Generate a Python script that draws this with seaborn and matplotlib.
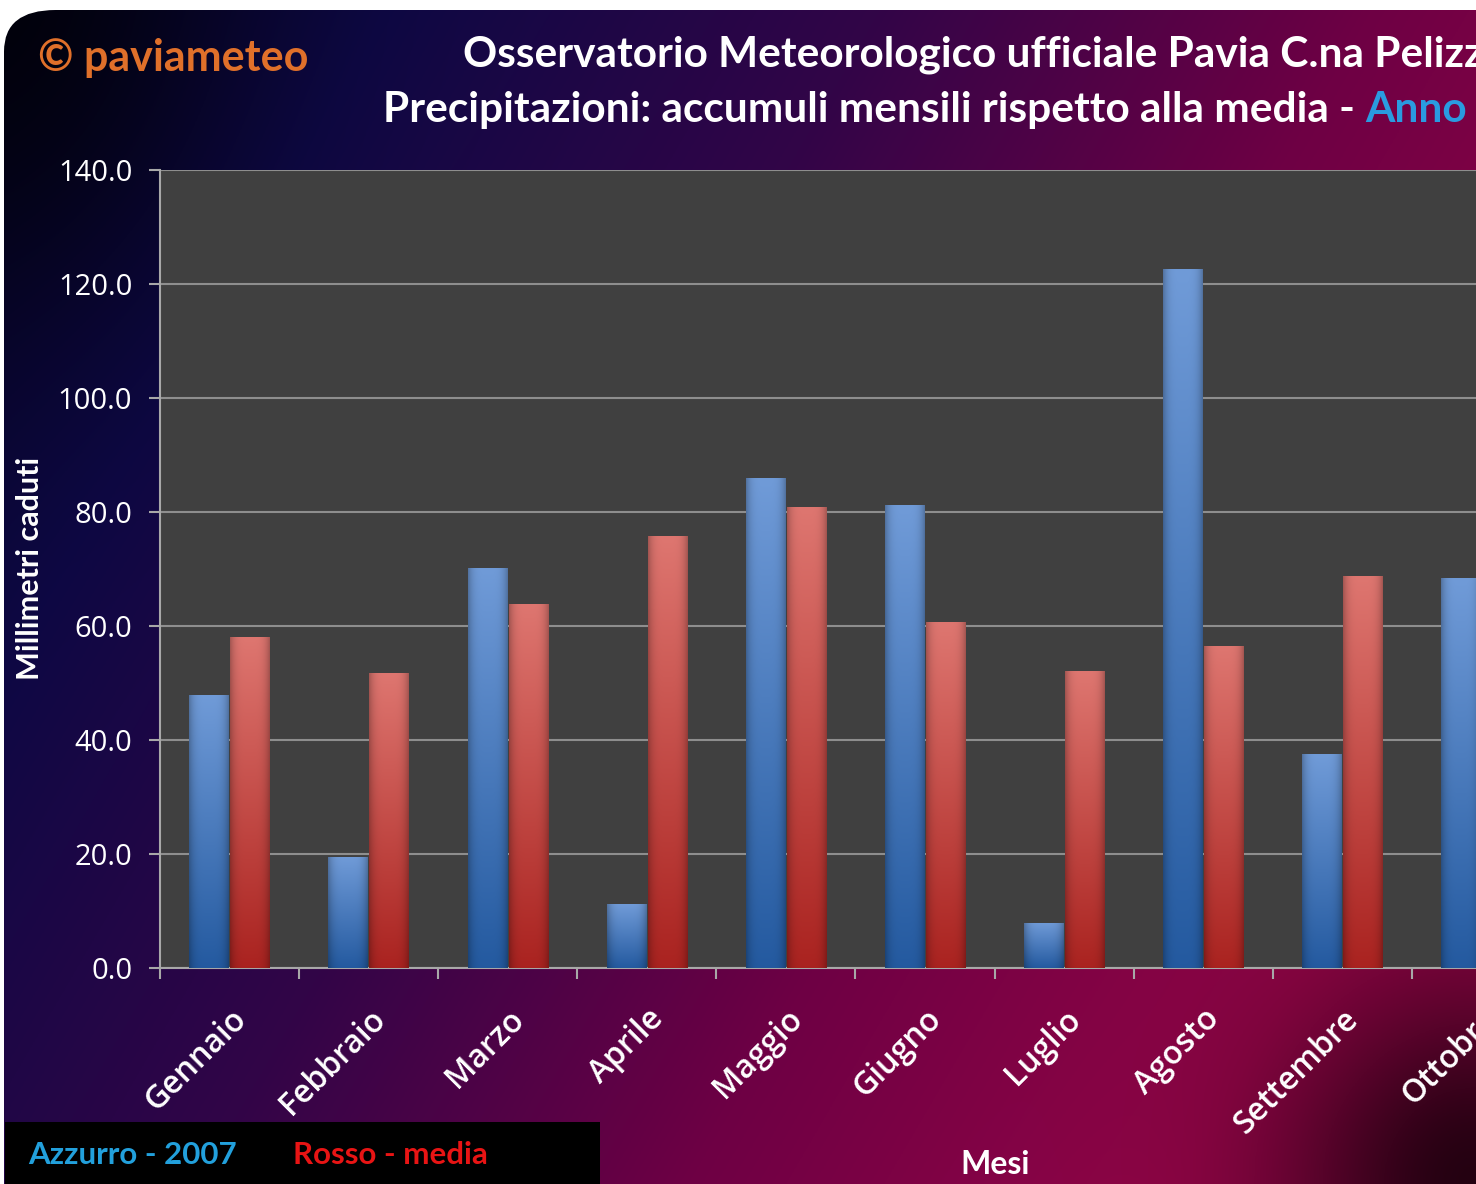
import numpy as np
import pandas as pd
import matplotlib
matplotlib.use("Agg")
import matplotlib.pyplot as plt
import seaborn as sns
from matplotlib.patches import FancyBboxPatch, Rectangle
from matplotlib.ticker import FixedLocator, FormatStrFormatter

# ---------------- data ----------------
mesi = ["Gennaio", "Febbraio", "Marzo", "Aprile", "Maggio", "Giugno",
        "Luglio", "Agosto", "Settembre", "Ottobre"]
pioggia_2007 = [47.9, 19.5, 70.2, 11.2, 86.0, 81.2, 7.9, 122.6, 37.5, 68.4]
pioggia_media = [58.1, 51.8, 63.9, 75.8, 80.9, 60.7, 52.1, 56.5, 68.8, np.nan]
serie = ["2007", "media"]
y_ticks = [0, 20, 40, 60, 80, 100, 120, 140]

df = pd.DataFrame({
    "Mese": mesi * 2,
    "mm": pioggia_2007 + pioggia_media,
    "Serie": [serie[0]] * len(mesi) + [serie[1]] * len(mesi),
})

sns.set_theme(style="dark")
plt.rcParams["font.family"] = ["Lato", "DejaVu Sans"]

W, H = 1476, 1184
fig = plt.figure(figsize=(W / 100, H / 100), dpi=100)
fig.patch.set_facecolor("white")

# ---------------- background gradient ----------------
bg = fig.add_axes([0, 0, 1, 1], zorder=-10)
bg.set_axis_off()
gx, gy = np.meshgrid(np.linspace(0, 1, 500), np.linspace(0, 1, 400))
t = 0.75 * gx + 0.35 * gy
stops_t = [0.0, 0.2, 0.45, 0.7, 0.95, 1.2]
stops_c = np.array([(4, 4, 32), (14, 8, 68), (50, 5, 72), (110, 0, 68),
                    (145, 5, 70), (145, 5, 70)]) / 255.0
img = np.zeros(gx.shape + (3,))
for c in range(3):
    img[..., c] = np.interp(t, stops_t, stops_c[:, c])
dark_br = 1 - 0.75 * np.exp(-(((1 - gx) / 0.13) ** 2 + ((1 - gy) / 0.17) ** 2))
dark_tl = 1 - 0.65 * np.exp(-((gx / 0.15) ** 2 + (gy / 0.25) ** 2))
img *= (dark_br * dark_tl)[..., None]
clip = FancyBboxPatch((4 / W, -0.05), 1.2, 1 - 10 / H + 0.05,
                      boxstyle="round,pad=0,rounding_size=0.035",
                      transform=bg.transAxes, facecolor="none", edgecolor="none")
bg.add_patch(clip)
bg.imshow(img, extent=[0, 1, 0, 1], aspect="auto", transform=bg.transAxes,
          clip_path=clip, zorder=0)
bg.set_xlim(0, 1)
bg.set_ylim(0, 1)

# ---------------- main axes ----------------
left = 160 / W
bottom = (H - 968) / H
top = (H - 170) / H
cat_w = 139.1
ax = fig.add_axes([left, bottom, 12 * cat_w / W, top - bottom])
ax.set_facecolor("#404040")

sns.barplot(data=df, x="Mese", y="mm", hue="Serie", order=mesi,
            palette=["#4a7cc4", "#c84840"], width=0.59, gap=0.04,
            legend=False, ax=ax, zorder=3)

# gradient fill for the bars
def bar_grad(c_top, c_bot):
    yy = np.linspace(0, 1, 100)[:, None]
    xx = np.linspace(0, 1, 40)[None, :]
    top_c = np.array(c_top) / 255.0
    bot_c = np.array(c_bot) / 255.0
    g = top_c[None, None, :] * (1 - yy[..., None]) + bot_c[None, None, :] * yy[..., None]
    edge = 1 - 0.25 * (np.abs(xx - 0.5) * 2) ** 4
    return np.clip(g * edge[..., None], 0, 1)

grad_blue = bar_grad((112, 155, 216), (36, 90, 160))
grad_red = bar_grad((222, 118, 112), (170, 35, 32))
for p in list(ax.patches):
    if not np.isfinite(p.get_height()) or p.get_height() == 0:
        continue
    fc = p.get_facecolor()
    g = grad_blue if fc[2] > fc[0] else grad_red
    x0, w, h = p.get_x(), p.get_width(), p.get_height()
    im = ax.imshow(g, extent=[x0, x0 + w, 0, h], aspect="auto", zorder=4)
    im.set_clip_path(p)
    p.set_edgecolor("none")

ax.set_xlim(-0.5, 11.5)
ax.set_ylim(0, 140)
ax.set_yticks(y_ticks)
ax.yaxis.set_major_formatter(FormatStrFormatter("%.1f"))
ax.grid(axis="y", color="#8e8e8e", linewidth=1.5, zorder=1)
ax.grid(axis="x", visible=False)
ax.set_axisbelow(True)

for s in ["top", "right"]:
    ax.spines[s].set_visible(False)
for s in ["left", "bottom"]:
    ax.spines[s].set_visible(True)
    ax.spines[s].set_color("#a8a8a8")
    ax.spines[s].set_linewidth(1.5)

ax.tick_params(axis="y", which="major", left=True, length=8, width=1.5,
               color="#a8a8a8", colors="white", labelsize=21, pad=12)
ax.tick_params(axis="x", which="major", bottom=False, length=0,
               colors="white", labelsize=23, pad=25)
ax.xaxis.set_minor_locator(FixedLocator(np.arange(-0.5, 12, 1)))
ax.tick_params(axis="x", which="minor", bottom=True, length=8, width=1.5,
               color="#a8a8a8", direction="out")
for lab in ax.get_yticklabels():
    lab.set_color("white")
    lab.set_fontfamily(["Open Sans", "DejaVu Sans"])
for lab in ax.get_xticklabels():
    lab.set_rotation(45)
    lab.set_ha("right")
    lab.set_va("top")
    lab.set_rotation_mode("anchor")
    lab.set_color("white")
    lab.set_fontfamily(["Open Sans", "DejaVu Sans"])
    lab.set_fontweight("semibold")

ax.set_xlabel("")
ax.set_ylabel("")
fig.text(30 / W, 1 - 568 / H, "Millimetri caduti", rotation=90, color="white",
         fontsize=22, fontweight="bold", ha="center", va="center")
fig.text(995 / W, 1 - 1165 / H, "Mesi", color="white", fontsize=23,
         fontweight="bold", ha="center", va="center")

# ---------------- titles ----------------
fig.text(38 / W, 1 - 58 / H, "© paviameteo", color="#e0702a", fontsize=31,
         fontweight="bold", ha="left", va="center")
fig.text(463 / W, 1 - 55 / H,
         "Osservatorio Meteorologico ufficiale Pavia C.na Pelizza",
         color="white", fontsize=30.5, fontweight="bold", ha="left", va="center")
t2 = fig.text(383 / W, 1 - 110 / H,
              "Precipitazioni: accumuli mensili rispetto alla media - ",
              color="white", fontsize=30.5, fontweight="bold", ha="left", va="center")
fig.canvas.draw()
bb = t2.get_window_extent()
fig.text(bb.x1 / W, 1 - 110 / H, "Anno 2007", color="#2a9be0", fontsize=30.5,
         fontweight="bold", ha="left", va="center")

# ---------------- legend box ----------------
fig.add_artist(Rectangle((5 / W, 0), 595 / W, 62 / H, transform=fig.transFigure,
                         facecolor="black", edgecolor="none", zorder=5))
fig.text(28 / W, 1 - 1155 / H, "Azzurro - 2007", color="#22a0dc", fontsize=22.5,
         fontweight="bold", ha="left", va="center", zorder=6)
fig.text(293 / W, 1 - 1155 / H, "Rosso - media", color="#e81414", fontsize=22.5,
         fontweight="bold", ha="left", va="center", zorder=6)

fig.savefig("out.png", dpi=100)
